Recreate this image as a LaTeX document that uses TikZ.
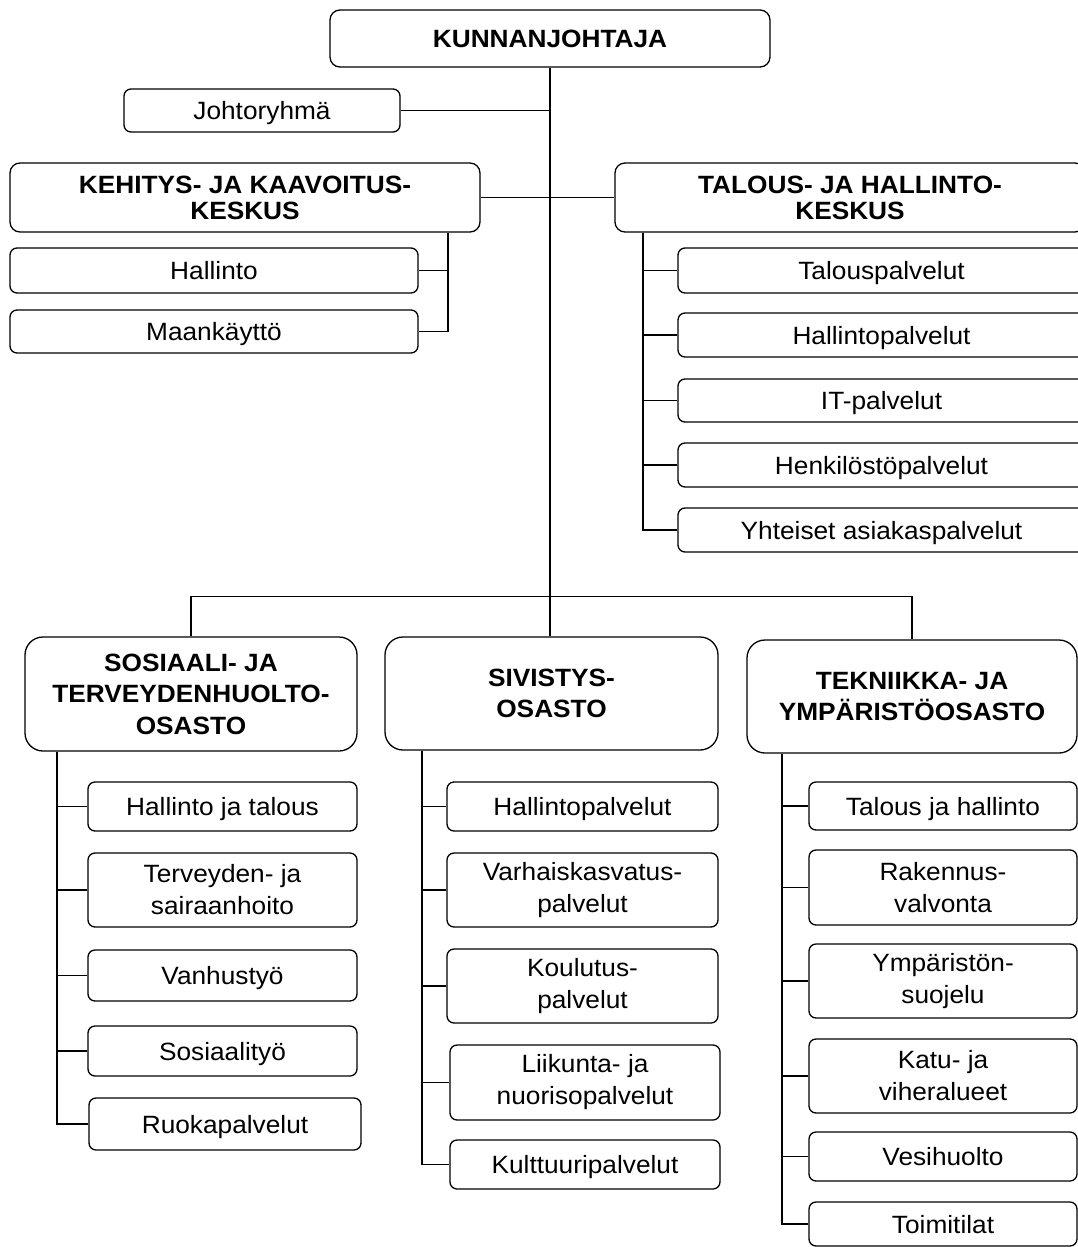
\documentclass[tikz,border=0pt]{standalone}
\usepackage{fontspec}
\setmainfont{Liberation Sans}[FakeStretch=1.05]
\begin{document}
\begin{tikzpicture}[x=1pt,y=-1pt]
\tikzset{
  box/.style={draw, line width=1.3pt, rounded corners=7pt, align=center, inner sep=0pt,
    font=\fontsize{25}{32}\selectfont},
  one/.style={box, text height=18pt, text depth=0pt},
  tophead/.style={box, rounded corners=10pt, font=\bfseries\fontsize{25}{26}\selectfont},
  topone/.style={tophead, text height=18pt, text depth=0pt},
  bighead/.style={box, rounded corners=18pt, font=\bfseries\fontsize{25}{31.5}\selectfont},
  link/.style={line width=1.2pt},
  sz/.style 2 args={minimum width=#1pt, minimum height=#2pt}
}
\clip (0,0) rectangle (1078,1247);
\fill[white] (0,0) rectangle (1078,1247);

% top level
\node[topone, sz={440}{57}] (kj) at (550,38.5) {KUNNANJOHTAJA};
\node[one, sz={276}{43}] (johto) at (262,110.5) {Johtoryhmä};
\node[tophead, sz={470}{69}] (keh) at (245,197.5) {KEHITYS- JA KAAVOITUS-\\KESKUS};
\node[one, sz={408}{45}] (hall) at (214,270.5) {Hallinto};
\node[one, sz={408}{43}] (maank) at (214,331.5) {Maankäyttö};
\node[tophead, sz={470}{69}] (tal) at (850,197.5) {TALOUS- JA HALLINTO-\\KESKUS};
\node[one, sz={407}{45}] (tp) at (881.5,270.5) {Talouspalvelut};
\node[one, sz={407}{44}] (hp) at (881.5,335) {Hallintopalvelut};
\node[one, sz={407}{43}] (it) at (881.5,400.5) {IT-palvelut};
\node[one, sz={407}{44}] (henk) at (881.5,465) {Henkilöstöpalvelut};
\node[one, sz={407}{44}] (yht) at (881.5,530) {Yhteiset asiakaspalvelut};

% departments
\node[bighead, sz={332}{114}] (sos) at (191,694) {SOSIAALI- JA\\TERVEYDENHUOLTO-\\OSASTO};
\node[bighead, sz={333}{113}] (siv) at (551.5,693.5) {SIVISTYS-\\OSASTO};
\node[bighead, sz={330}{113}] (tek) at (912,696.5) {TEKNIIKKA- JA\\YMPÄRISTÖOSASTO};

% sosiaali subs
\node[one, sz={269}{49}] (s1) at (222.5,806.5) {Hallinto ja talous};
\node[box, sz={269}{74}] (s2) at (222.5,890) {Terveyden- ja\\sairaanhoito};
\node[one, sz={269}{51}] (s3) at (222.5,975.5) {Vanhustyö};
\node[one, sz={269}{50}] (s4) at (222.5,1051) {Sosiaalityö};
\node[one, sz={272}{52}] (s5) at (225,1124) {Ruokapalvelut};

% sivistys subs
\node[one, sz={271}{49}] (v1) at (582.5,806.5) {Hallintopalvelut};
\node[box, sz={271}{74}] (v2) at (582.5,890) {Varhaiskasvatus-\\palvelut};
\node[box, sz={271}{74}] (v3) at (582.5,986) {Koulutus-\\palvelut};
\node[box, sz={270}{75}] (v4) at (585,1082.5) {Liikunta- ja\\nuorisopalvelut};
\node[one, sz={270}{49}] (v5) at (585,1164.5) {Kulttuuripalvelut};

% tekniikka subs
\node[one, sz={268}{48}] (t1) at (943,806) {Talous ja hallinto};
\node[box, sz={268}{75}] (t2) at (943,887.5) {Rakennus-\\valvonta};
\node[box, sz={268}{74}] (t3) at (943,981) {Ympäristön-\\suojelu};
\node[box, sz={268}{74}] (t4) at (943,1076) {Katu- ja\\viheralueet};
\node[one, sz={268}{49}] (t5) at (943,1156.5) {Vesihuolto};
\node[one, sz={268}{44}] (t6) at (943,1224) {Toimitilat};

% bracket x positions
\coordinate (kx) at (448,0);
\coordinate (tx) at (643,0);
\coordinate (sx) at (57,0);
\coordinate (vx) at (422,0);
\coordinate (ex) at (782,0);

% main trunk and bus
\draw[link] (kj.south) -- (kj.south |- siv.north);
\draw[link] (johto.east) -- (johto.east -| kj.south);
\draw[link] (keh.east) -- (keh.east -| kj.south);
\draw[link] (tal.west) -- (tal.west -| kj.south);
\draw[link] (sos.north) -- ++(0,-40) -| (tek.north);

% kehitys bracket
\draw[link] (keh.south -| kx) |- (maank.east);
\draw[link] (hall.east) -- (hall.east -| kx);

% talous bracket
\draw[link] (tal.south -| tx) |- (yht.west);
\foreach \n in {tp,hp,it,henk} \draw[link] (\n.west) -- (\n.west -| tx);

% sosiaali
\draw[link] (sos.south -| sx) |- (s5.west);
\foreach \n in {s1,s2,s3,s4} \draw[link] (\n.west) -- (\n.west -| sx);

% sivistys
\draw[link] (siv.south -| vx) |- (v5.west);
\foreach \n in {v1,v2,v3,v4} \draw[link] (\n.west) -- (\n.west -| vx);

% tekniikka
\draw[link] (tek.south -| ex) |- (t6.west);
\foreach \n in {t1,t2,t3,t4,t5} \draw[link] (\n.west) -- (\n.west -| ex);
\end{tikzpicture}
\end{document}
